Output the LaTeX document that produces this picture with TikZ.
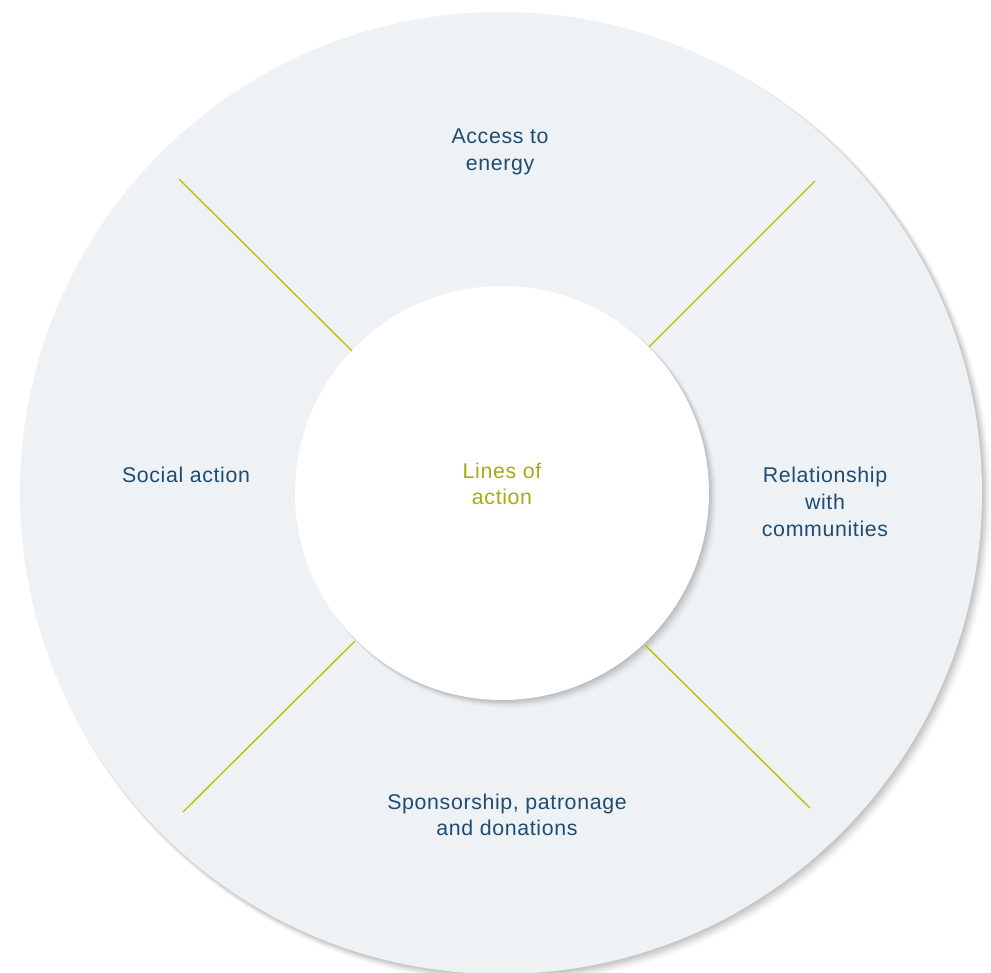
\documentclass[tikz,border=0pt]{standalone}
\usepackage{fontspec}
\setmainfont{Liberation Sans}[LetterSpace=3]
\definecolor{ringfill}{HTML}{EEF2F5}
\definecolor{textblue}{HTML}{1E4C72}
\definecolor{lineolive}{HTML}{BDC000}
\definecolor{centerolive}{HTML}{A9AA10}
\begin{document}
\begin{tikzpicture}[x=0.75pt,y=-0.75pt,
  lbl/.style={text=textblue,font=\fontsize{16}{20}\selectfont,align=center,inner sep=0pt},
  clbl/.style={text=centerolive,font=\fontsize{16}{20}\selectfont,align=center,inner sep=0pt},
  divider/.style={draw=lineolive,line width=1pt}]
\useasboundingbox (0,0) rectangle (991,973);
\fill[white] (0,0) rectangle (991,973);
% outer shadow
\foreach \k/\o in {1/0.04,2/0.04,3/0.04,4/0.04,5/0.03,6/0.03,7/0.02,8/0.02}
  \fill[black,opacity=\o] (501+\k*0.8,493+\k*0.8) circle (480+\k*0.5);
\node[circle,fill=ringfill,minimum size=962*0.75pt,inner sep=0pt] (outer) at (501,493) {};
% inner shadow
\foreach \k/\o in {1/0.05,2/0.05,3/0.04,4/0.04,5/0.03,6/0.02,7/0.02}
  \fill[black,opacity=\o] (502+\k*0.9,493+\k*0.9) circle (206+\k*0.4);
\node[circle,fill=white,minimum size=414*0.75pt,inner sep=0pt] (inner) at (502,493) {};
% dividers
\coordinate (a1) at (179,179); \coordinate (b1) at (352,351);
\coordinate (a2) at (815,181); \coordinate (b2) at (649,347);
\coordinate (a3) at (183,812); \coordinate (b3) at (355,641);
\coordinate (a4) at (810,808); \coordinate (b4) at (645,645);
\draw[divider] (a1) -- (b1);
\draw[divider] (a2) -- (b2);
\draw[divider] (a3) -- (b3);
\draw[divider] (a4) -- (b4);
% labels
\node[lbl] (energy) at (500,152) {Access to\\energy};
\node[lbl] (social) at (186,475) {Social action};
\node[lbl] (comm) at (825,502) {Relationship\\with\\communities};
\node[lbl] (spons) at (507,815) {Sponsorship, patronage\\and donations};
\node[clbl] (lines) at (502,484) {Lines of\\action};
\end{tikzpicture}
\end{document}
